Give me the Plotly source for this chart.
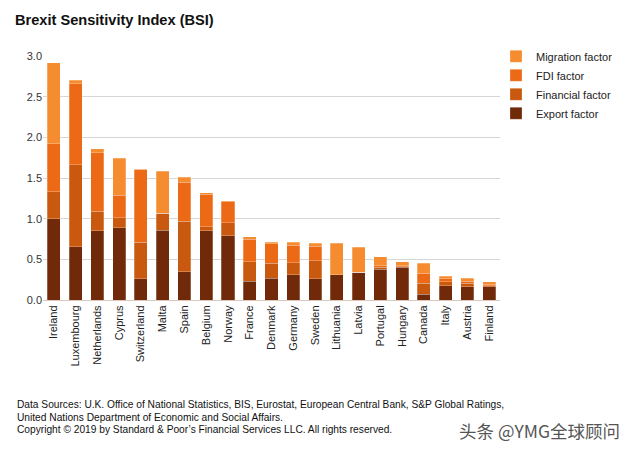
import plotly.graph_objects as go

countries = ["Ireland", "Luxembourg", "Netherlands", "Cyprus", "Switzerland", "Malta", "Spain",
             "Belgium", "Norway", "France", "Denmark", "Germany", "Sweden", "Lithuania", "Latvia",
             "Portugal", "Hungary", "Canada", "Italy", "Austria", "Finland"]
export_factor = [1.00, 0.655, 0.85, 0.89, 0.26, 0.86, 0.35, 0.85, 0.79, 0.23, 0.27, 0.31, 0.26,
                 0.31, 0.34, 0.38, 0.40, 0.07, 0.175, 0.165, 0.165]
financial_factor = [0.33, 1.005, 0.24, 0.12, 0.45, 0.205, 0.62, 0.05, 0.16, 0.24, 0.18, 0.15, 0.22,
                    0.0, 0.0, 0.02, 0.01, 0.135, 0.05, 0.04, 0.01]
fdi_factor = [0.59, 1.00, 0.72, 0.28, 0.89, 0.0, 0.48, 0.40, 0.26, 0.28, 0.24, 0.215, 0.18,
              0.0, 0.0, 0.02, 0.01, 0.125, 0.035, 0.025, 0.02]
migration_factor = [1.00, 0.04, 0.05, 0.45, 0.01, 0.515, 0.06, 0.02, 0.01, 0.03, 0.02, 0.035, 0.04,
                    0.39, 0.31, 0.11, 0.05, 0.12, 0.035, 0.035, 0.03]

series = [
    ("Export factor", export_factor, "#702A0A"),
    ("Financial factor", financial_factor, "#C9590F"),
    ("FDI factor", fdi_factor, "#EC6A16"),
    ("Migration factor", migration_factor, "#F58D30"),
]

fig = go.Figure()
for name, vals, col in series:
    fig.add_trace(go.Bar(
        x=countries, y=vals, name=name,
        marker=dict(color=col, line=dict(color="rgba(255,255,255,0.5)", width=0.5)),
    ))

font = "Liberation Sans, Arial, sans-serif"
fig.update_layout(
    barmode="stack",
    bargap=0.4,
    width=629, height=449,
    margin=dict(l=43, r=129, t=56, b=149, autoexpand=False),
    paper_bgcolor="white", plot_bgcolor="white",
    font=dict(family=font, size=11, color="#222"),
    title=dict(text="<b>Brexit Sensitivity Index (BSI)</b>", x=15/629, xanchor="left",
               y=1-20/449, yanchor="middle", font=dict(size=14.6, color="#111", family=font)),
    legend=dict(x=(496-43)/457, xanchor="left", y=1.058, yanchor="top", traceorder="reversed",
                font=dict(size=11, color="#222"), itemwidth=30, tracegroupgap=0,
                bgcolor="rgba(0,0,0,0)"),
    xaxis=dict(tickangle=-90, tickfont=dict(size=11, color="#222"), showline=True,
               linecolor="#d8c8c0", linewidth=1, ticks=""),
    yaxis=dict(range=[0, 3], dtick=0.5, tickformat=".1f", showgrid=True, gridcolor="#d6d6d6",
               gridwidth=1, zeroline=False, tickfont=dict(size=11, color="#333"), ticks=""),
)

footer = ["Data Sources: U.K. Office of National Statistics, BIS, Eurostat, European Central Bank, S&P Global Ratings,",
          "United Nations Department of Economic and Social Affairs.",
          "Copyright \u00a9 2019 by Standard & Poor\u2019s Financial Services LLC. All rights reserved."]
for i, line in enumerate(footer):
    fig.add_annotation(text=line, xref="paper", yref="paper", x=(15-43)/457, xanchor="left",
                       y=(300-(405+12.5*i))/244.3, yanchor="middle", showarrow=False,
                       font=dict(size=10.2, color="#111", family=font))

fig.add_annotation(text="头条 @YMG全球顾问", xref="paper", yref="paper", x=(622-43)/457, xanchor="right",
                   y=(300-431)/244.3, yanchor="middle", showarrow=False,
                   font=dict(size=17.5, color="#555", family="Noto Sans CJK SC"))

fig.write_html("out.html", config={"displayModeBar": False},
               post_script="document.body.style.margin='0';document.body.style.padding='0';")
